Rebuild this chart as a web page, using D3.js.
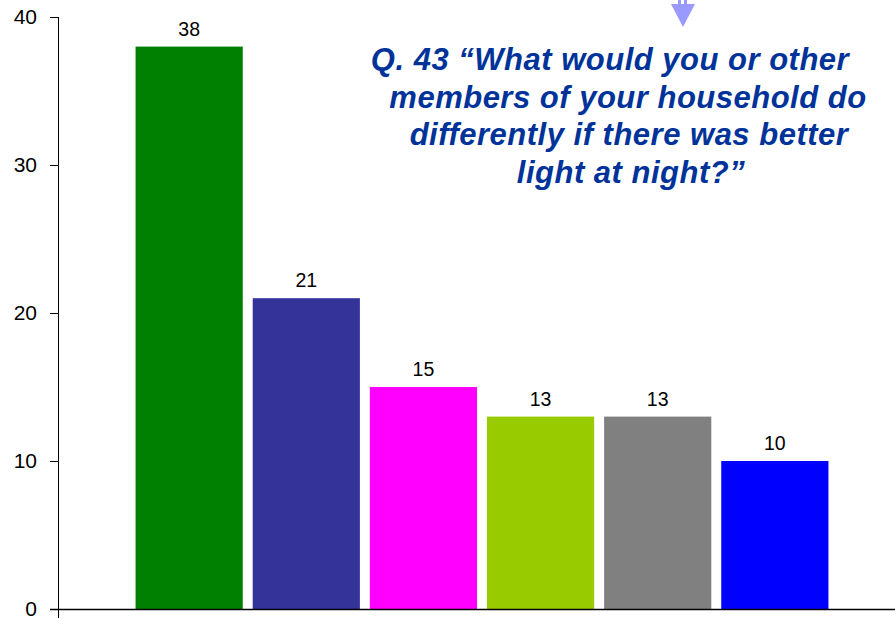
<!DOCTYPE html>
<html>
<head>
<meta charset="utf-8">
<script src="https://cdn.jsdelivr.net/npm/d3@7"></script>
<style>
  body { margin: 0; background: #fff; }
  svg { display: block; font-family: Arial, "Liberation Sans", sans-serif; }
</style>
</head>
<body>
<svg id="chart" width="895" height="618"></svg>
<script>
// responses to Q.43 (category labels are not shown in the picture)
var categories = ['r1', 'r2', 'r3', 'r4', 'r5', 'r6'];
var values = [38, 21, 15, 13, 13, 10];
var barColours = ['#008000', '#333399', '#ff00ff', '#99cc00', '#808080', '#0000ff'];
var yTicks = [0, 10, 20, 30, 40];
var titleLines = ['Q. 43 \u201cWhat would you or other',
                  'members of your household do',
                  'differently if there was better',
                  'light at night?\u201d'];

var svg = d3.select('#chart');

var x = d3.scaleBand()
    .domain(categories)
    .range([77, 887])
    .paddingInner(0.085)
    .paddingOuter(0.5);

var y = d3.scaleLinear()
    .domain([0, 40])
    .range([609, 17]);

var colour = d3.scaleOrdinal().domain(categories).range(barColours);

//-------------------------------------------------------------------------------
// bars

svg.append('g')
  .selectAll('rect')
  .data(values)
  .join('rect')
    .attr('x', (d, i) => x(categories[i]))
    .attr('y', d => y(d))
    .attr('width', x.bandwidth())
    .attr('height', d => y(0) - y(d))
    .attr('fill', (d, i) => colour(categories[i]));

// value labels above bars
svg.append('g')
  .selectAll('text')
  .data(values)
  .join('text')
    .attr('x', (d, i) => x(categories[i]) + x.bandwidth() / 2)
    .attr('y', d => y(d) - 11)
    .attr('text-anchor', 'middle')
    .attr('font-size', 19.5)
    .attr('fill', '#000')
    .text(d => d);

//-------------------------------------------------------------------------------
// axes

var yAxis = d3.axisLeft(y).tickValues(yTicks).tickSize(8).tickPadding(13);
var gy = svg.append('g')
    .attr('transform', 'translate(58,0)')
    .call(yAxis);
gy.select('.domain').remove();
gy.selectAll('.tick line').attr('stroke', '#000');
gy.selectAll('.tick text').attr('font-size', 21).attr('fill', '#000')
    .attr('font-family', 'Arial, "Liberation Sans", sans-serif');

// y axis line (runs a little below the x axis)
svg.append('line')
    .attr('x1', 58.5).attr('x2', 58.5)
    .attr('y1', y(40)).attr('y2', 618)
    .attr('stroke', '#000');

// x axis line
svg.append('line')
    .attr('x1', 50).attr('x2', 895)
    .attr('y1', y(0) + 0.5).attr('y2', y(0) + 0.5)
    .attr('stroke', '#000')
    .attr('stroke-width', 1.5);

//-------------------------------------------------------------------------------
// question text

svg.append('text')
    .attr('font-size', 31)
    .attr('font-weight', 'bold')
    .attr('font-style', 'italic')
    .attr('letter-spacing', 0.5)
    .attr('fill', '#003399')
    .attr('text-anchor', 'middle')
  .selectAll('tspan')
  .data(titleLines)
  .join('tspan')
    .attr('x', (d, i) => [610, 628, 629, 631][i])
    .attr('y', (d, i) => 70 + i * 37.7)
    .text(d => d);

// arrow pointing down at the top
var arrow = svg.append('g').attr('fill', '#9999ff');
arrow.append('rect').attr('x', 678).attr('y', 0).attr('width', 3).attr('height', 5);
arrow.append('rect').attr('x', 684).attr('y', 0).attr('width', 3).attr('height', 5);
arrow.append('path').attr('d', 'M671,4 L695,4 L683,27 Z');
</script>
</body>
</html>
